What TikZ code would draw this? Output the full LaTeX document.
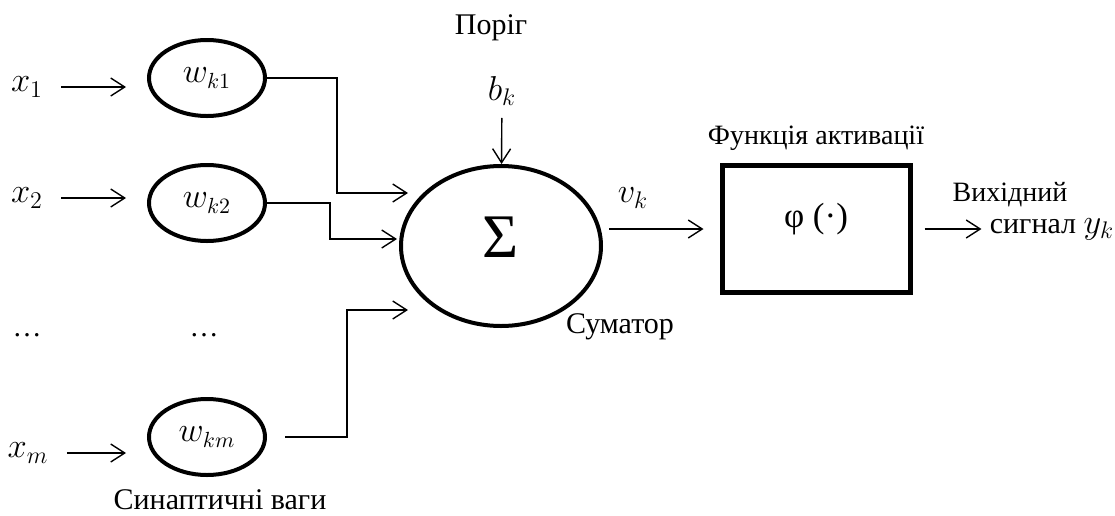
\documentclass[tikz,border=0pt]{standalone}
\usepackage{fontspec}
\setmainfont{Liberation Serif}
\usetikzlibrary{arrows.meta,calc,shapes.geometric}

\begin{document}
\begin{tikzpicture}[x=0.5pt, y=-0.5pt,
  every node/.style={font=\fontsize{14.5}{16}\selectfont, inner sep=0pt},
  weight/.style={draw, ellipse, line width=2pt, minimum width=58pt, minimum height=38pt, font=\fontsize{16}{18}\selectfont},
  inp/.style={font=\fontsize{18}{20}\selectfont},
  arrow/.style={-{Straight Barb[length=7pt,width=9pt]}, line width=0.7pt}
]
  \useasboundingbox (0,0) rectangle (1115,515);

  % inputs and synaptic weights
  \node[inp] (x1) at (27,87)  {$x_1$};
  \node[inp] (x2) at (27,198) {$x_2$};
  \node[anchor=base] (dots1) at (27,336) {\dots};
  \node[inp] (xm) at (28,453) {$x_m$};

  \node[weight] (w1) at (207,78)  {$w_{k1}$};
  \node[weight] (w2) at (207,203) {$w_{k2}$};
  \node[anchor=base] (dots2) at (204,336) {\dots};
  \node[weight] (wm) at (207,437) {$w_{km}$};
  \node[font=\fontsize{15}{17}\selectfont] (syn) at (220,500) {Синаптичні ваги};

  \foreach \i/\j in {x1/w1,x2/w2,xm/wm}
    \draw[arrow, shorten <=9pt, shorten >=10.5pt] (\i.east) -- (\i.east -| \j.west);

  % summator
  \node[draw, ellipse, line width=2pt, minimum width=100pt, minimum height=80pt, font=\fontsize{31}{33}\selectfont] (sum) at (501,246)
    {\raisebox{-5.5pt}[0pt][0pt]{Σ}};
  \node[font=\fontsize{15}{17}\selectfont] (sumlab) at (620,327) {Суматор};
  \node[font=\fontsize{15}{17}\selectfont] (porig) at (491,28) {Поріг};
  \node[inp] (bk) at (502,91) {$b_k$};
  \draw[arrow, shorten <=6pt] (bk) -- (sum);

  \draw[arrow] (w1.east) -- ++(70,0) |- ($(sum.center)+(-93,-53)$);
  \draw[arrow] (w2.east) -- ++(63,0) |- ($(sum.center)+(-104,-7)$);
  \draw[arrow, shorten <=9pt] (wm.east) -- ++(80,0) |- ($(sum.center)+(-93,64)$);

  % activation function
  \node[draw, line width=2.5pt, minimum width=94pt, minimum height=63.5pt, font=\fontsize{17.5}{19}\selectfont] (act) at (816,229)
    {\raisebox{1pt}[0pt][0pt]{φ (·)}};
  \node[font=\fontsize{14}{16}\selectfont] (actlab) at (816,138) {Функція активації};
  \node[inp] (vk) at (633,198) {$v_k$};
  \draw[arrow, shorten <=3pt, shorten >=8pt] (sum.east |- act.west) -- (act.west);

  % output
  \node[font=\fontsize{14}{16}\selectfont] (outlab) at (1010,195) {Вихідний};
  \node[font=\fontsize{15}{17}\selectfont] (out) at (1052,229) {сигнал\ {\fontsize{18}{20}\selectfont$y_k$}};
  \draw[arrow, shorten <=6pt, shorten >=4pt] (act.east |- out.west) -- (out.west);
\end{tikzpicture}
\end{document}
